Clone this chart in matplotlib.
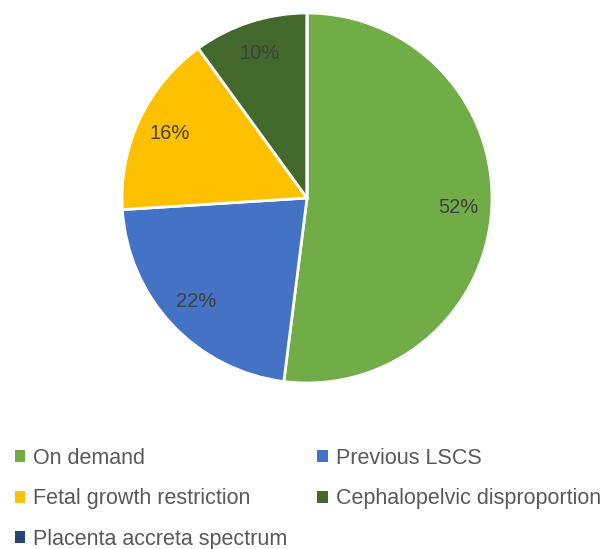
import matplotlib.pyplot as plt
from matplotlib.patches import Patch

plt.rcParams['font.family'] = ['Liberation Sans', 'DejaVu Sans']

# Data
categories = ["On demand", "Previous LSCS", "Fetal growth restriction",
              "Cephalopelvic disproportion", "Placenta accreta spectrum"]
percents = [52, 22, 16, 10, 0]
colors = ["#70AD47", "#4472C4", "#FFC000", "#43682B", "#264478"]

W, H = 613, 549
fig = plt.figure(figsize=(W / 100, H / 100), dpi=100)

# pie centre ~(307, 198) px, radius ~185 px
cx, cy, r = 307, 198, 185
ax = fig.add_axes([(cx - r) / W, (H - cy - r) / H, 2 * r / W, 2 * r / H])


def fmt(p):
    return f"{p:.0f}%" if p >= 1 else ""


wedges, texts, autotexts = ax.pie(
    percents, colors=colors, startangle=90, counterclock=False,
    autopct=fmt, pctdistance=0.82, radius=1,
    wedgeprops=dict(edgecolor="white", linewidth=2),
    textprops=dict(color="#404040", fontsize=14.5),
)
ax.set_xlim(-1, 1)
ax.set_ylim(-1, 1)
ax.set_aspect("equal")
ax.axis("off")

# legend: two columns, filled row by row
order = [0, 2, 4, 1, 3]
handles = [Patch(facecolor=colors[i], label=categories[i]) for i in order]
fig.legend(handles=handles, ncol=2, loc="upper left",
           bbox_to_anchor=(15 / W, (H - 448) / H), frameon=False,
           fontsize=15.5, labelcolor="#595959",
           handlelength=0.47, handleheight=0.47, handletextpad=0.37,
           columnspacing=1.4, labelspacing=0.9, borderaxespad=0,
           borderpad=0)

fig.savefig("out.png", dpi=100)
